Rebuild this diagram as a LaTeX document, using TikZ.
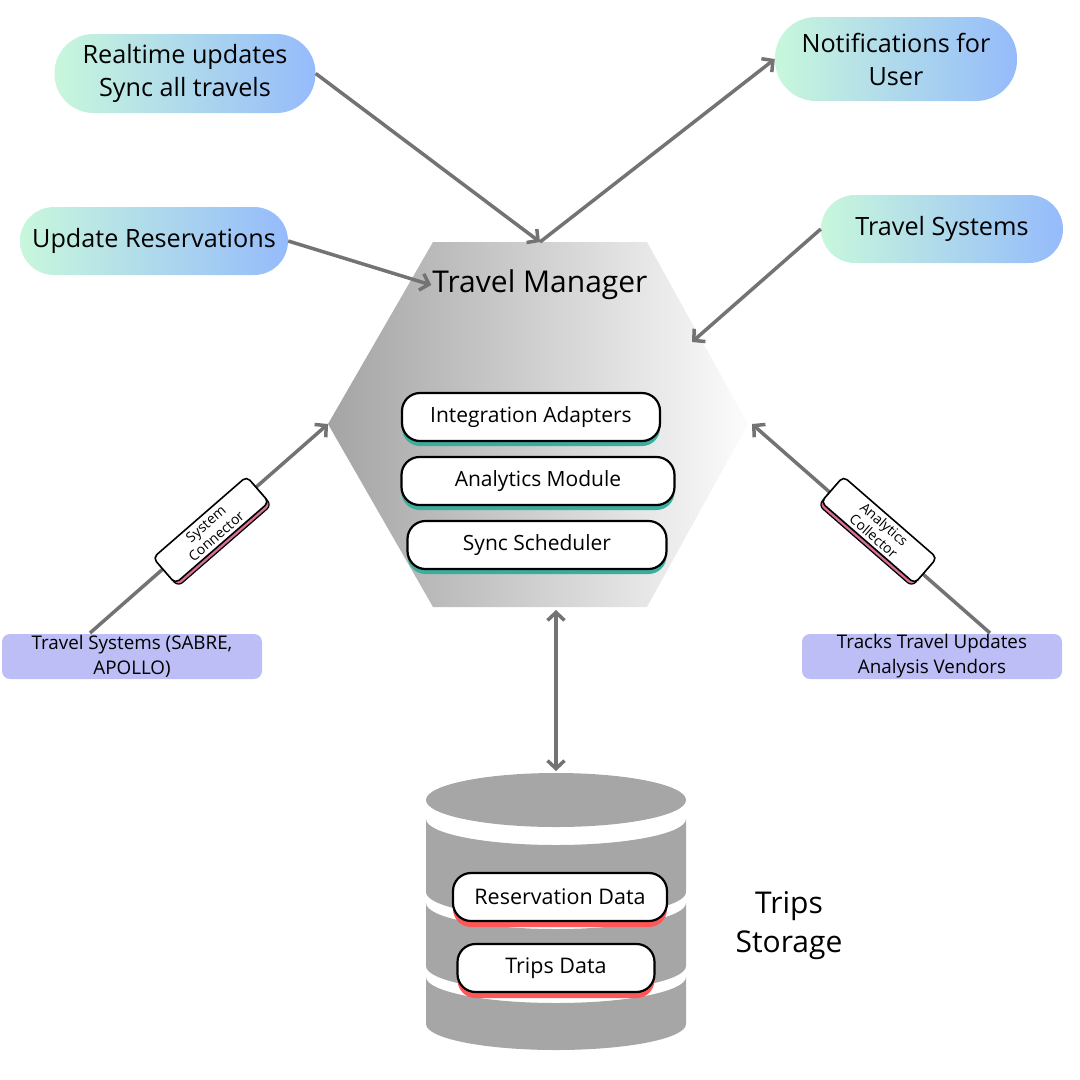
\documentclass[tikz,border=0pt]{standalone}
\usepackage{fontspec}
\setmainfont{Open Sans}
\usetikzlibrary{arrows.meta,calc}
\definecolor{mint}{HTML}{C8F7DC}
\definecolor{sky}{HTML}{95BBFB}
\definecolor{conngray}{HTML}{737373}
\definecolor{hexdark}{HTML}{A4A4A4}
\definecolor{hexlight}{HTML}{FCFCFC}
\definecolor{tealsh}{HTML}{3AAE9C}
\definecolor{redsh}{HTML}{FF5757}
\definecolor{pinksh}{HTML}{D9709A}
\definecolor{lav}{HTML}{BDBEF6}
\definecolor{dbgray}{HTML}{A6A6A6}
\tikzset{
  pill/.style={rectangle, inner sep=0pt, align=center, left color=mint, right color=sky,
    font=\fontsize{25.2}{33}\selectfont},
  conn/.style={draw=conngray, line width=3.5pt, -{Straight Barb[length=8pt,width=17pt]}},
  conn2/.style={draw=conngray, line width=3.5pt, {Straight Barb[length=8pt,width=17pt]}-{Straight Barb[length=8pt,width=17pt]}},
  modbox/.style={rectangle, rounded corners=18pt, draw=black, line width=2.2pt, fill=white,
    inner sep=0pt, minimum height=48pt, font=\fontsize{21}{24}\selectfont},
  modshadow/.style={rectangle, rounded corners=18pt, fill=tealsh, inner sep=0pt, minimum height=48pt},
  dbbox/.style={rectangle, rounded corners=18pt, draw=black, line width=2.2pt, fill=white,
    inner sep=0pt, minimum height=48pt, font=\fontsize{21.5}{24}\selectfont},
  dbshadow/.style={rectangle, rounded corners=18pt, fill=redsh, inner sep=0pt, minimum height=48pt},
  rotbox/.style={rectangle, rounded corners=5pt, draw=black, line width=1.6pt, fill=white,
    inner sep=0pt, minimum width=124pt, minimum height=34pt, align=center,
    font=\fontsize{14}{16}\selectfont},
  rotshadow/.style={rectangle, rounded corners=6pt, fill=pinksh, draw=black, line width=1.2pt,
    inner sep=0pt, minimum width=124pt, minimum height=34pt},
  lavbox/.style={rectangle, rounded corners=8pt, fill=lav, inner sep=0pt, minimum width=260pt,
    minimum height=45pt, align=center, font=\fontsize{18.8}{25}\selectfont},
  bigtext/.style={inner sep=0pt, align=center, font=\fontsize{30}{39}\selectfont}
}
\begin{document}
\begin{tikzpicture}[x=1pt,y=-1pt]
\useasboundingbox (0,0) rectangle (1080,1080);

% hexagon
\coordinate (hT) at (540,242);
\coordinate (hL) at (328,424);
\coordinate (hR) at (752,424);
\coordinate (hB) at (556,610);
\path[left color=hexdark, right color=hexlight]
  (433,242) -- (647,242) -- (748,424) -- (647,607) -- (433,607) -- (328,424) -- cycle;
\node[bigtext] (tm) at (540,285) {Travel Manager};

% modules
\node[modshadow, minimum width=258pt] (iash) at (531,422) {};
\node[modbox, minimum width=258pt] (ia) at (531,417) {Integration Adapters};
\node[modshadow, minimum width=273pt] (amsh) at (538,486) {};
\node[modbox, minimum width=273pt] (am) at (538,481) {Analytics Module};
\node[modshadow, minimum width=259pt] (sssh) at (537,550) {};
\node[modbox, minimum width=259pt] (ss) at (537,545) {Sync Scheduler};

% pills
\node[pill, minimum width=261pt, minimum height=79pt, rounded corners=39pt] (rt) at (185,73.5) {Realtime updates\\Sync all travels};
\node[pill, minimum width=268pt, minimum height=68pt, rounded corners=34pt] (ur) at (154,241) {Update Reservations};
\node[pill, minimum width=242pt, minimum height=84pt, rounded corners=41pt] (nu) at (896,59) {Notifications for\\User};
\node[pill, minimum width=242pt, minimum height=68pt, rounded corners=34pt] (ts) at (942,229) {Travel Systems};

% arrows top
\draw[conn] (rt.east) -- (hT);
\draw[conn] (hT) -- (nu.west);
\draw[conn] (ur.east) -- ([xshift=-1pt]tm.west);
\coordinate (tsEnd) at (692,342);
\draw[conn] (ts.west) -- (tsEnd);

% bottom labels
\node[lavbox] (tsl) at (132,656.5) {Travel Systems (SABRE,\\APOLLO)};
\node[lavbox] (tvl) at (932,656.5) {Tracks Travel Updates\\Analysis Vendors};
\coordinate (tslA) at (90,633);
\coordinate (tvlA) at (990,633);
\draw[conn] (tslA) -- (hL);
\draw[conn] (tvlA) -- (hR);

% rotated connector boxes
\node[rotshadow, rotate=41] (scsh) at (213.6,533) {};
\node[rotbox, rotate=41] (sc) at (211,530) {System\\Connector};
\node[rotshadow, rotate=-41] (acsh) at (876.4,533) {};
\node[rotbox, rotate=-41] (ac) at (879,530) {Analytics\\Collector};

% database
\fill[dbgray] (556,800) ellipse [x radius=130pt, y radius=27pt];
\fill[dbgray] (426,819) arc[start angle=180,end angle=360,x radius=130pt,y radius=26pt]
  -- (686,892) arc[start angle=0,end angle=-180,x radius=130pt,y radius=26pt] -- cycle;
\fill[dbgray] (426,903) arc[start angle=180,end angle=360,x radius=130pt,y radius=26pt]
  -- (686,966) arc[start angle=0,end angle=-180,x radius=130pt,y radius=26pt] -- cycle;
\fill[dbgray] (426,977) arc[start angle=180,end angle=360,x radius=130pt,y radius=26pt]
  -- (686,1024) arc[start angle=0,end angle=-180,x radius=130pt,y radius=26pt] -- cycle;
\coordinate (dbT) at (556,771);
\draw[conn2] (hB) -- (dbT);

\node[dbshadow, minimum width=214pt] (rdsh) at (560,903) {};
\node[dbbox, minimum width=214pt] (rd) at (560,897) {Reservation Data};
\node[dbshadow, minimum width=197pt] (tdsh) at (556,974) {};
\node[dbbox, minimum width=197pt] (td) at (556,968) {Trips Data};

\node[bigtext] (tst) at (789,926) {Trips\\Storage};
\end{tikzpicture}
\end{document}
